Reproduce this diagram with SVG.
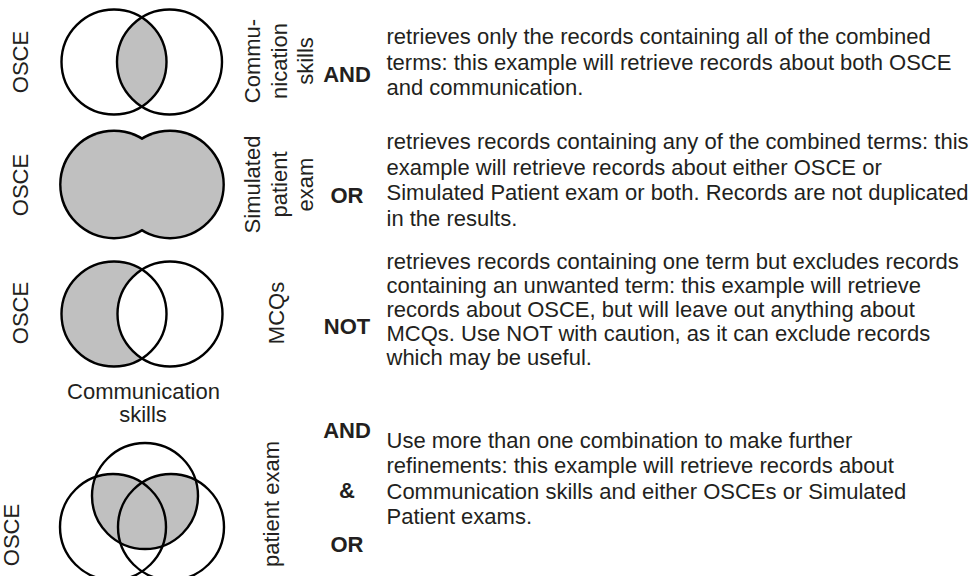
<svg xmlns="http://www.w3.org/2000/svg" width="974" height="576" viewBox="0 0 974 576">
<style>
text{font-family:"Liberation Sans",Arial,Helvetica,sans-serif;font-size:22px;fill:#231f20}
.op{font-weight:bold;text-anchor:middle}
.lab{text-anchor:middle}
.ring{fill:none;stroke:#000;stroke-width:2.4}
.shade{fill:#c0c0c0}
</style>
<defs>
<clipPath id="c1R"><circle cx="169.5" cy="62" r="52.5"/></clipPath>
<clipPath id="c4T"><circle cx="145" cy="496" r="53"/></clipPath>
</defs>
<rect width="974" height="576" fill="#fff"/>

<g id="and-venn">
<circle class="shade" cx="114" cy="62" r="52.5" clip-path="url(#c1R)"/>
<circle class="ring" cx="114" cy="62" r="52.5"/>
<circle class="ring" cx="169.5" cy="62" r="52.5"/>
<text class="lab" transform="rotate(-90 28 62)" x="28" y="62">OSCE</text>
<text class="lab" transform="rotate(-90 260 61)" x="260" y="61">Commu-</text>
<text class="lab" transform="rotate(-90 287 61)" x="287" y="61">nication</text>
<text class="lab" transform="rotate(-90 313 61)" x="313" y="61">skills</text>
<text class="op" x="347" y="82">AND</text>
</g>
<g id="and-text">
<text x="386.5" y="44">retrieves only the records containing all of the combined</text>
<text x="386.5" y="69.5">terms: this example will retrieve records about both OSCE</text>
<text x="386.5" y="95">and communication.</text>
</g>

<g id="or-venn">
<circle cx="114" cy="184.5" r="52.5" fill="none" stroke="#000" stroke-width="4.8"/>
<circle cx="170" cy="184.5" r="52.5" fill="none" stroke="#000" stroke-width="4.8"/>
<circle class="shade" cx="114" cy="184.5" r="52.5"/>
<circle class="shade" cx="170" cy="184.5" r="52.5"/>
<text class="lab" transform="rotate(-90 28 185)" x="28" y="185">OSCE</text>
<text class="lab" transform="rotate(-90 260 184.5)" x="260" y="184.5">Simulated</text>
<text class="lab" transform="rotate(-90 287 184.5)" x="287" y="184.5">patient</text>
<text class="lab" transform="rotate(-90 313 184.5)" x="313" y="184.5">exam</text>
<text class="op" x="347" y="203">OR</text>
</g>
<g id="or-text">
<text x="386.5" y="149">retrieves records containing any of the combined terms: this</text>
<text x="386.5" y="174.5">example will retrieve records about either OSCE or</text>
<text x="386.5" y="200">Simulated Patient exam or both. Records are not duplicated</text>
<text x="386.5" y="225.5">in the results.</text>
</g>

<g id="not-venn">
<circle class="shade" cx="114" cy="314" r="52.5"/>
<circle cx="170" cy="314" r="52.5" fill="#fff"/>
<circle class="ring" cx="114" cy="314" r="52.5"/>
<circle class="ring" cx="170" cy="314" r="52.5"/>
<text class="lab" transform="rotate(-90 28 313)" x="28" y="313">OSCE</text>
<text class="lab" transform="rotate(-90 284 313)" x="284" y="313">MCQs</text>
<text class="op" x="347" y="333.5">NOT</text>
</g>
<g id="not-text">
<text x="386.5" y="268.5">retrieves records containing one term but excludes records</text>
<text x="386.5" y="292.5">containing an unwanted term: this example will retrieve</text>
<text x="386.5" y="316.5">records about OSCE, but will leave out anything about</text>
<text x="386.5" y="340.5">MCQs. Use NOT with caution, as it can exclude records</text>
<text x="386.5" y="364.5">which may be useful.</text>
</g>

<g id="combo-venn">
<g clip-path="url(#c4T)">
<circle class="shade" cx="113" cy="527" r="53"/>
<circle class="shade" cx="171" cy="527" r="53"/>
</g>
<circle class="ring" cx="145" cy="496" r="53"/>
<circle class="ring" cx="113" cy="527" r="53"/>
<circle class="ring" cx="171" cy="527" r="53"/>
<text class="lab" x="143.5" y="399">Communication</text>
<text class="lab" x="143" y="422">skills</text>
<text class="lab" transform="rotate(-90 19 535)" x="19" y="535">OSCE</text>
<text class="lab" transform="rotate(-90 279 504)" x="279" y="504">patient exam</text>
<text class="op" x="347" y="438">AND</text>
<text class="op" x="347" y="498">&amp;</text>
<text class="op" x="347" y="552">OR</text>
</g>
<g id="combo-text">
<text x="386.5" y="447.5">Use more than one combination to make further</text>
<text x="386.5" y="473">refinements: this example will retrieve records about</text>
<text x="386.5" y="498.5">Communication skills and either OSCEs or Simulated</text>
<text x="386.5" y="524">Patient exams.</text>
</g>

<g id="connectors"></g>
</svg>
